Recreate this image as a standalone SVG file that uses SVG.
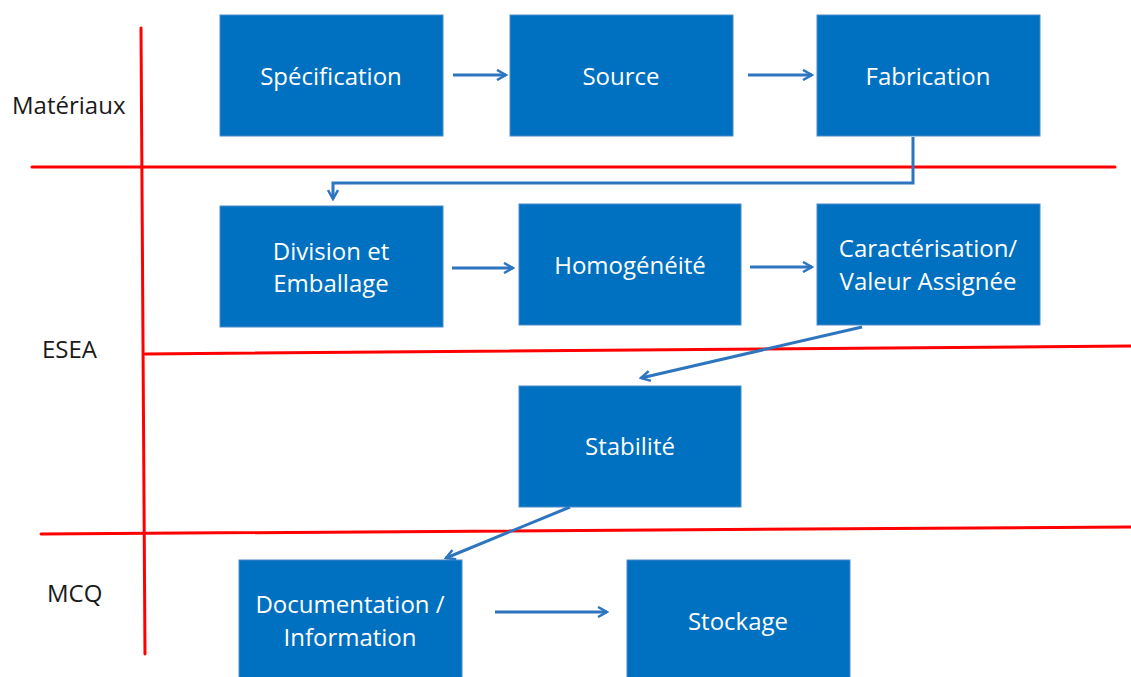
<svg xmlns="http://www.w3.org/2000/svg" width="1131" height="677" viewBox="0 0 1131 677">
<style>
.box{fill:#0070C0;stroke:#4A8BC9;stroke-width:1}
.t{font-family:"Open Sans","Noto Sans",sans-serif;font-size:24px;fill:#FFFFFF;text-anchor:middle}
.lab{font-family:"Open Sans","Noto Sans",sans-serif;font-size:24px;fill:#1A1A1A}
.red{stroke:#FF0000;stroke-width:3;fill:none;stroke-linecap:round}
.con{stroke:#2E75C0;stroke-width:3;fill:none}
</style>
<defs>
<marker id="ah" viewBox="0 0 12 12" refX="10" refY="6" markerWidth="12" markerHeight="12" markerUnits="userSpaceOnUse" orient="auto">
<path d="M1,1 L10,6 L1,11" fill="none" stroke="#2E75C0" stroke-width="2.5" stroke-linejoin="miter"/>
</marker>
</defs>
<rect width="1131" height="677" fill="#FFFFFF"/>
<g id="lanes">
<path class="red" d="M141,28 L145,654"/>
<path class="red" d="M32,167 L1115,167"/>
<path class="red" d="M145,354 L1131,346"/>
<path class="red" d="M41,534 L1131,527"/>
<text class="lab" x="12" y="114">Matériaux</text>
<text class="lab" x="42" y="358">ESEA</text>
<text class="lab" x="47" y="602">MCQ</text>
</g>
<g id="n-specification"><rect class="box" x="220" y="15" width="223" height="121"/><text class="t" x="331" y="85">Spécification</text></g>
<g id="n-source"><rect class="box" x="510" y="15" width="223" height="121"/><text class="t" x="621" y="85">Source</text></g>
<g id="n-fabrication"><rect class="box" x="817" y="15" width="223" height="121"/><text class="t" x="928" y="85">Fabrication</text></g>
<g id="n-division"><rect class="box" x="220" y="206" width="223" height="121"/><text class="t" x="331" y="260">Division et</text><text class="t" x="331" y="292">Emballage</text></g>
<g id="n-homogeneite"><rect class="box" x="519" y="204" width="222" height="121"/><text class="t" x="630" y="274">Homogénéité</text></g>
<g id="n-caracterisation"><rect class="box" x="817" y="204" width="223" height="121"/><text class="t" x="928" y="257">Caractérisation/</text><text class="t" x="928" y="290">Valeur Assignée</text></g>
<g id="n-stabilite"><rect class="box" x="519" y="386" width="222" height="121"/><text class="t" x="630" y="455">Stabilité</text></g>
<g id="n-documentation"><rect class="box" x="239" y="560" width="223" height="121"/><text class="t" x="350" y="613">Documentation /</text><text class="t" x="350" y="646">Information</text></g>
<g id="n-stockage"><rect class="box" x="627" y="560" width="223" height="121"/><text class="t" x="738" y="630">Stockage</text></g>
<g id="connectors">
<path class="con" marker-end="url(#ah)" d="M453,75 L506,75"/>
<path class="con" marker-end="url(#ah)" d="M748,75 L812,75"/>
<path class="con" marker-end="url(#ah)" d="M913,137 L913,183 L333,183 L333,199"/>
<path class="con" marker-end="url(#ah)" d="M452,268 L513,268"/>
<path class="con" marker-end="url(#ah)" d="M750,267 L812,267"/>
<path class="con" marker-end="url(#ah)" d="M862,327 L641,378"/>
<path class="con" marker-end="url(#ah)" d="M570,507 L446,558"/>
<path class="con" marker-end="url(#ah)" d="M495,612 L607,612"/>
</g>
</svg>
